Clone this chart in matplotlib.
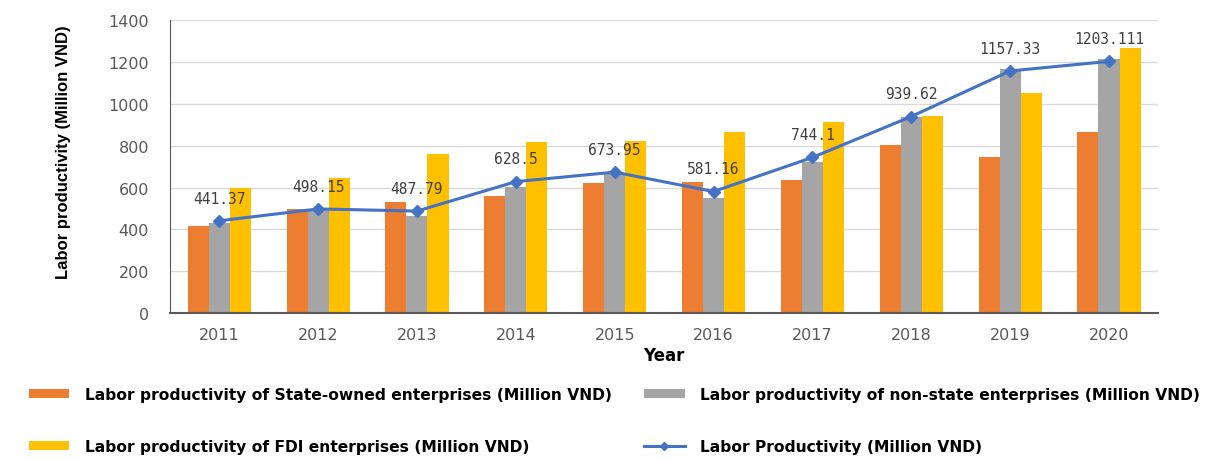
import matplotlib
matplotlib.use("Agg")
import matplotlib.pyplot as plt
import numpy as np

years = ["2011", "2012", "2013", "2014", "2015", "2016", "2017", "2018", "2019", "2020"]
state_owned = [415, 500, 533, 562, 624, 628, 638, 805, 748, 867]
non_state = [432, 495, 462, 605, 665, 552, 724, 938, 1168, 1215]
fdi = [600, 648, 762, 819, 822, 866, 914, 943, 1053, 1265]
overall = [441.37, 498.15, 487.79, 628.5, 673.95, 581.16, 744.1, 939.62, 1157.33, 1203.111]
overall_labels = ["441.37", "498.15", "487.79", "628.5", "673.95", "581.16", "744.1", "939.62", "1157.33", "1203.111"]

c_state = "#ED7D31"
c_non = "#A5A5A5"
c_fdi = "#FFC000"
c_line = "#4472C4"

plt.rcParams["font.family"] = ["DejaVu Sans"]

fig = plt.figure(figsize=(12.13, 4.60), dpi=100)
ax = fig.add_axes([0.140, 0.317, 0.815, 0.637])

x = np.arange(len(years))
w = 0.213
b1 = ax.bar(x - w, state_owned, w, color=c_state, zorder=2,
            label="Labor productivity of State-owned enterprises (Million VND)")
b2 = ax.bar(x, non_state, w, color=c_non, zorder=2,
            label="Labor productivity of non-state enterprises (Million VND)")
b3 = ax.bar(x + w, fdi, w, color=c_fdi, zorder=2,
            label="Labor productivity of FDI enterprises (Million VND)")
ln, = ax.plot(x, overall, color=c_line, lw=2.2, marker="D", ms=6, zorder=4,
              label="Labor Productivity (Million VND)")

for xi, v, s in zip(x, overall, overall_labels):
    ax.annotate(s, (xi, v), xytext=(0, 11), textcoords="offset points",
                ha="center", va="bottom", fontsize=10.5, color="#404040",
                family="DejaVu Sans Mono", zorder=5)

ax.set_xlim(-0.5, len(years) - 0.5)
ax.set_ylim(0, 1400)
ax.set_yticks(range(0, 1401, 200))
ax.set_xticks(x)
ax.set_xticklabels(years)
ax.tick_params(axis="both", length=0, labelsize=11.5, colors="#595959")
ax.tick_params(axis="x", pad=10)
ax.tick_params(axis="y", pad=15)
ax.grid(axis="y", color="#D9D9D9", lw=1, zorder=0)
for side in ("top", "right"):
    ax.spines[side].set_visible(False)
ax.spines["left"].set_color("#595959")
ax.spines["bottom"].set_color("#595959")
ax.spines["bottom"].set_linewidth(1.5)

ax.set_xlabel("Year", fontsize=12, fontweight="bold", labelpad=3)
ax.set_ylabel("Labor productivity (Million VND)", fontsize=12, fontweight="bold",
              family="Liberation Sans")
ax.yaxis.set_label_coords(-0.100, 0.553)

handles = [b1, b3, b2, ln]
labels = [h.get_label() for h in handles]
fig.legend(handles, labels, ncol=2, loc="upper left", bbox_to_anchor=(0.012, 0.186),
           frameon=False, prop={"size": 11.2, "weight": "bold", "family": "DejaVu Sans"},
           handlelength=2.6, handleheight=0.5, handletextpad=1.0, markerscale=0.75,
           columnspacing=2.1, labelspacing=2.35)

fig.savefig("out.png", dpi=100)
